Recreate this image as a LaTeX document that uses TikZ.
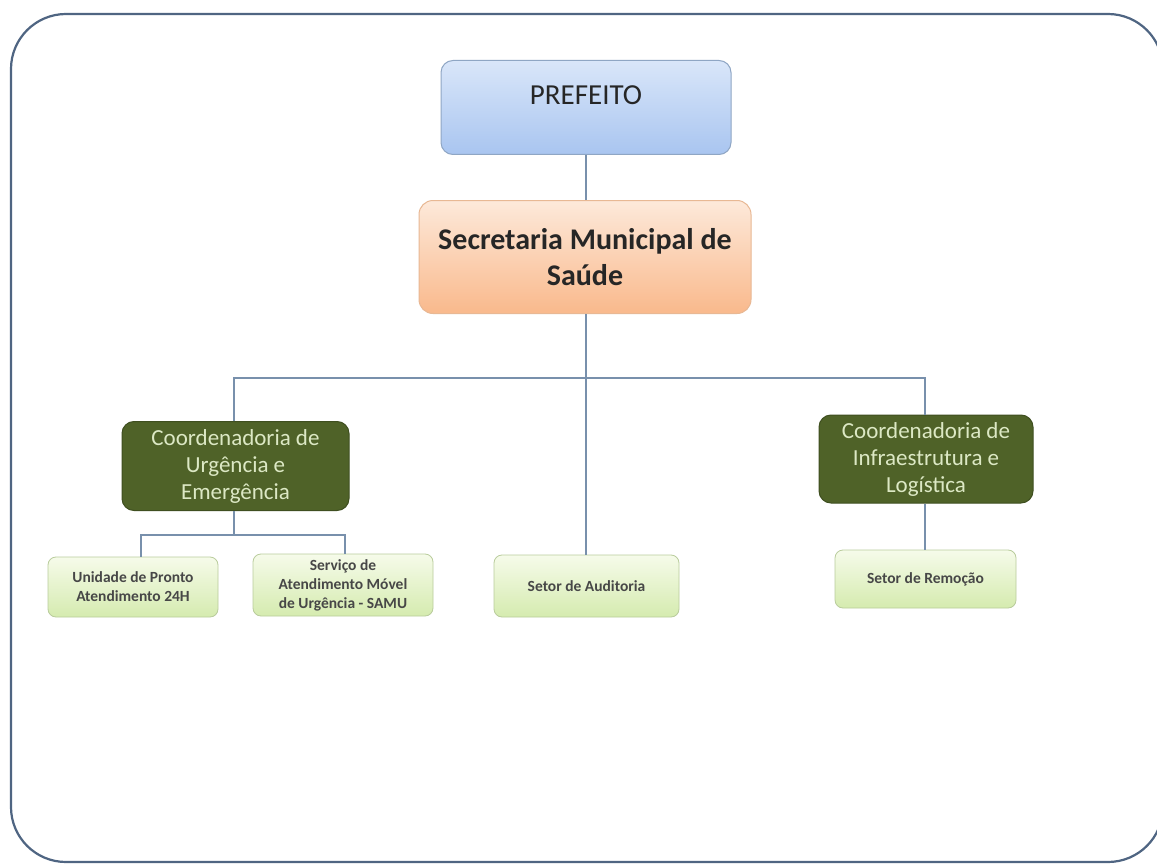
\documentclass[tikz,border=0pt]{standalone}
\usepackage{fontspec}
\setmainfont{Carlito}
\definecolor{frame}{HTML}{4F6582}
\definecolor{link}{HTML}{7890AC}
\definecolor{blueT}{HTML}{D9E6F9}
\definecolor{blueB}{HTML}{A9C5F0}
\definecolor{blueD}{HTML}{8FA6C4}
\definecolor{orT}{HTML}{FDE9DA}
\definecolor{orB}{HTML}{F9B98C}
\definecolor{orD}{HTML}{E8B894}
\definecolor{olive}{HTML}{4F6228}
\definecolor{oliveD}{HTML}{3F4F20}
\definecolor{oliveTxt}{HTML}{DCE8C4}
\definecolor{lgT}{HTML}{F6FBEA}
\definecolor{lgB}{HTML}{D5EBAF}
\definecolor{lgD}{HTML}{B9CC9C}
\definecolor{txt}{HTML}{262626}
\tikzset{
  topbox/.style={draw=blueD, line width=1pt, rounded corners=12pt, top color=blueT, bottom color=blueB},
  secbox/.style={draw=orD, line width=1pt, rounded corners=14pt, top color=orT, bottom color=orB, align=center, font=\bfseries\fontsize{30}{36}\selectfont, text=txt},
  coordbox/.style={draw=oliveD, line width=1pt, fill=olive, rounded corners=12pt, align=center, font=\fontsize{23}{27}\selectfont, text=oliveTxt},
  leafbox/.style={draw=lgD, line width=0.8pt, rounded corners=8pt, top color=lgT, bottom color=lgB, align=center, font=\bfseries\fontsize{15.5}{19}\selectfont, text=txt!85},
  conn/.style={draw=link, line width=1.3pt}
}
\begin{document}
\begin{tikzpicture}[x=1pt,y=-1pt]
\useasboundingbox (0,0) rectangle (1157,864);
\fill[white] (0,0) rectangle (1157,864);
\draw[frame, line width=2.2pt, rounded corners=55pt] (11,14) rectangle (1163,862);

\node[topbox, minimum width=290pt, minimum height=94pt, anchor=north] (pref) at (586,60) {};
\node[font=\fontsize{29}{33}\selectfont, text=txt] (preft) at (586,95) {PREFEITO};
\node[secbox, minimum width=332pt, minimum height=113pt] (sec) at (585,257) {Secretaria Municipal de\\Saúde};

\node[coordbox, minimum width=227pt, minimum height=89pt] (cue) at (235.5,466) {Coordenadoria de\\Urgência e\\Emergência};
\node[coordbox, minimum width=214pt, minimum height=88pt] (cil) at (926,459) {Coordenadoria de\\Infraestrutura e\\Logística};

\node[leafbox, minimum width=170pt, minimum height=60pt] (upa) at (133,587) {Unidade de Pronto\\Atendimento 24H};
\node[leafbox, minimum width=180pt, minimum height=62pt] (samu) at (343,585) {Serviço de\\Atendimento Móvel\\de Urgência - SAMU};
\node[leafbox, minimum width=185pt, minimum height=62pt] (aud) at (586.5,586) {Setor de Auditoria};
\node[leafbox, minimum width=181pt, minimum height=58pt] (rem) at (925.5,579) {Setor de Remoção};

\coordinate (bus) at (586,378);
\coordinate (bus2) at (234,535);

\draw[conn] (pref.south) -- (sec.north -| pref.south);
\draw[conn] (sec.south -| bus) -- (bus);
\draw[conn] (bus) -- (aud.north -| bus);
\draw[conn] (cue.north -| 234,0) |- (bus) -| (cil.north -| 925,0);
\draw[conn] (cue.south -| bus2) -- (bus2);
\draw[conn] (upa.north -| 141,0) |- (bus2) -| (samu.north -| 345,0);
\draw[conn] (cil.south -| 925,0) -- (rem.north -| 925,0);
\end{tikzpicture}
\end{document}
